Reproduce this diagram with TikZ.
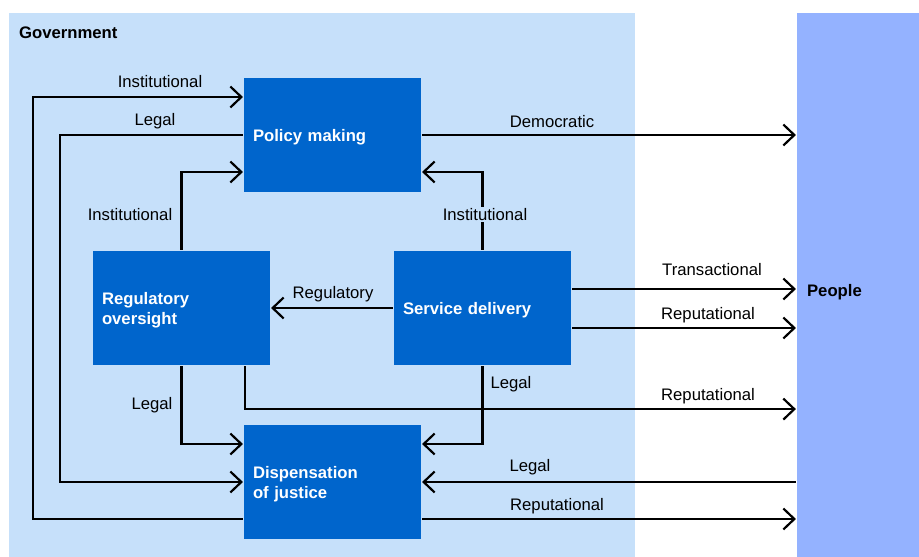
\documentclass[tikz,border=0pt]{standalone}
\usepackage{fontspec}
\setmainfont{Liberation Sans}
\usetikzlibrary{arrows.meta}

\definecolor{govbg}{RGB}{198,224,250}
\definecolor{pplbg}{RGB}{148,178,255}
\definecolor{boxblue}{RGB}{0,101,204}

\begin{document}
\begin{tikzpicture}[x=0.02cm, y=-0.02cm, line width=1.25pt,
  every node/.style={font=\fontsize{9.5}{11.4}\selectfont},
  fn/.style={fill=boxblue, text=white, font=\fontsize{9.5}{11.4}\selectfont\bfseries,
    inner xsep=0.18cm, text width=3.18cm, minimum height=2.28cm, align=left,
    execute at begin node={\rule{0pt}{9.2pt}}},
  bold/.style={font=\fontsize{9.5}{11.4}\selectfont\bfseries},
  >={Straight Barb[length=0.22cm,width=0.42cm]}]
\useasboundingbox (0,0) rectangle (919,557);
% backgrounds
\node[fill=govbg, minimum width=12.52cm, minimum height=10.88cm, inner sep=0] (gov) at (322,285) {};
\node[fill=pplbg, minimum width=2.44cm, minimum height=10.88cm, inner sep=0] (ppl) at (858,285) {};
\node[bold, anchor=west, inner sep=0] (govtxt) at (18,33) {Government};
\node[bold, anchor=west, inner sep=0] (ppltxt) at (806,292) {People};
% functions
\node[fn] (pm) at (332.5,135) {Policy making};
\node[fn] (ro) at (181.5,308) {Regulatory\\oversight};
\node[fn] (sd) at (482.5,308) {Service delivery};
\node[fn] (dj) at (332.5,482) {Dispensation\\of justice};
% accountability lines
\draw[->] ([yshift=-0.74cm]dj.west) -- ++(-210,0) |- ([yshift=0.76cm]pm.west);
\node (i1) at (160,82) {Institutional};
\draw[->] (pm.west) -- ++(-183,0) |- (dj.west);
\node (l1) at (155,121.5) {Legal};
\draw[->] (ro.north) |- ([yshift=-0.74cm]pm.west);
\node (i2) at (130,214.5) {Institutional};
\draw[->] (sd.north) |- ([yshift=-0.74cm]pm.east);
\node[fill=govbg, inner sep=1pt] (i3) at (485,214.5) {Institutional};
\draw[->] (sd.west) -- (ro.east);
\node (rg) at (333,294.5) {Regulatory};
\draw[->] (ro.south) |- ([yshift=0.76cm]dj.west);
\node (l2) at (152,405.5) {Legal};
\draw[->] ([xshift=1.27cm]ro.south) -- ++(0,43) coordinate (r2) -- (r2 -| ppl.west);
\node (rp2) at (708,396.5) {Reputational};
\draw[->] (sd.south) |- ([yshift=0.76cm]dj.east);
\node (l3) at (511,384.5) {Legal};
\draw[->] (pm.east) -- (pm.east -| ppl.west);
\node (dm) at (552,121.5) {Democratic};
\draw[->] ([yshift=0.38cm]sd.east) coordinate (t1) -- (t1 -| ppl.west);
\node (tr) at (712,270) {Transactional};
\draw[->] ([yshift=-0.4cm]sd.east) coordinate (r1) -- (r1 -| ppl.west);
\node (rp1) at (708,315.5) {Reputational};
\draw[->] (ppl.west |- dj.east) -- (dj.east);
\node (l4) at (530,467.5) {Legal};
\draw[->] ([yshift=-0.74cm]dj.east) coordinate (r3) -- (r3 -| ppl.west);
\node (rp3) at (557,506.5) {Reputational};
\end{tikzpicture}
\end{document}
